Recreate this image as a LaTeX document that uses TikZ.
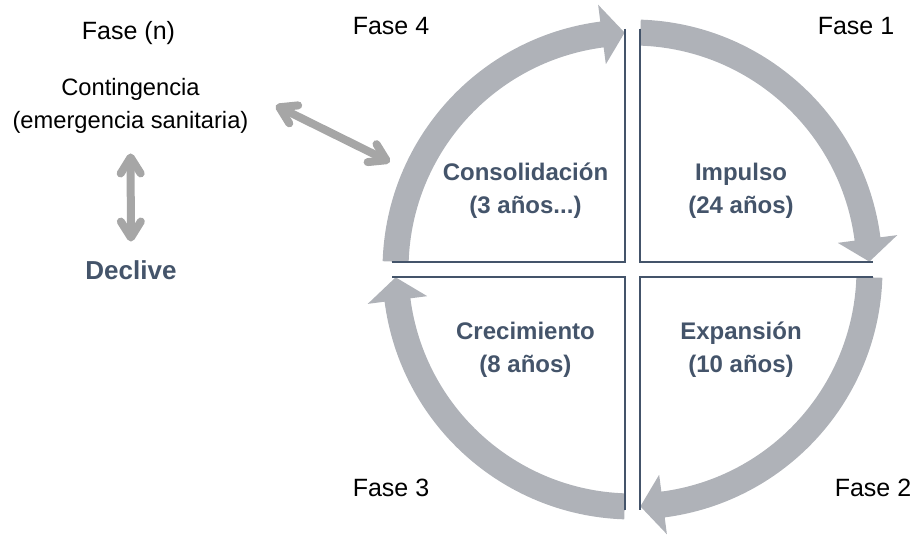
\documentclass[tikz,border=0pt]{standalone}
\usepackage{fontspec}
\setmainfont{Liberation Sans}
\usetikzlibrary{arrows.meta}
\definecolor{ringgray}{HTML}{AFB2B8}
\definecolor{linkgray}{HTML}{A6A6A6}
\definecolor{slate}{HTML}{44546A}

\begin{document}
\begin{tikzpicture}[x=0.5pt, y=0.5pt,
    fase/.style={font=\fontsize{12.5}{15}\selectfont, inner sep=0pt},
    etapa/.style={font=\fontsize{12}{16.5}\selectfont\bfseries, text=slate, align=center, inner sep=0pt},
    enlace/.style={draw=linkgray, line width=4pt, {Straight Barb[round,length=8pt,width=10pt]}-{Straight Barb[round,length=8pt,width=10pt]}},
    cuadro/.style={draw=slate, line width=1pt}]
    \useasboundingbox (0,0) rectangle (915,535);

    % flechas del ciclo
    \foreach \s in {178.1, 88.1, -1.9, -91.9} {
        \pgfmathsetmacro{\tipang}{\s-86.2}
        \pgfmathsetmacro{\baseang}{\s-80.7}
        \fill[ringgray, shift={(632.5,265.5)}] (\s:250) arc[start angle=\s, end angle=\baseang, radius=250]
            -- (\baseang:267) -- (\tipang:237) -- (\baseang:207) -- (\baseang:224)
            arc[start angle=\baseang, end angle=\s, radius=224] -- cycle;
    }

    \draw[cuadro] (625,506) -- (625,273) -- (392,273);
    \draw[cuadro] (640,506) -- (640,273) -- (873,273);
    \draw[cuadro] (392,258) -- (625,258) -- (625,25);
    \draw[cuadro] (873,258) -- (640,258) -- (640,25);

    \node[fase] (fase4) at (391,508.8) {Fase 4};
    \node[fase] (fase1) at (856,508.8) {Fase 1};
    \node[fase] (fase3) at (391,47.5) {Fase 3};
    \node[fase] (fase2) at (873,47.5) {Fase 2};
    \node[fase] (fasen) at (128.5,501.5) {Fase (n)};
    \node[font=\fontsize{11.85}{16.5}\selectfont, align=center, inner sep=0pt] (cont) at (130.5,429.5) {Contingencia\\(emergencia sanitaria)};
    \node[etapa, font=\fontsize{13}{16.5}\selectfont\bfseries] (declive) at (131,264.5) {Declive};

    \node[etapa] (consol) at (525.5,344.5) {Consolidación\\(3 años...)};
    \node[etapa] (impulso) at (741,344.5) {Impulso\\(24 años)};
    \node[etapa] (crec) at (525.5,185.5) {Crecimiento\\(8 años)};
    \node[etapa] (expan) at (741,185.5) {Expansión\\(10 años)};

    \coordinate (arcpt) at (390,373);
    \draw[enlace] ([xshift=13.5pt]cont.east) -- (arcpt);
    \draw[enlace, shorten <=10pt, shorten >=9.5pt] (cont.south) -- (declive.north);
\end{tikzpicture}
\end{document}
